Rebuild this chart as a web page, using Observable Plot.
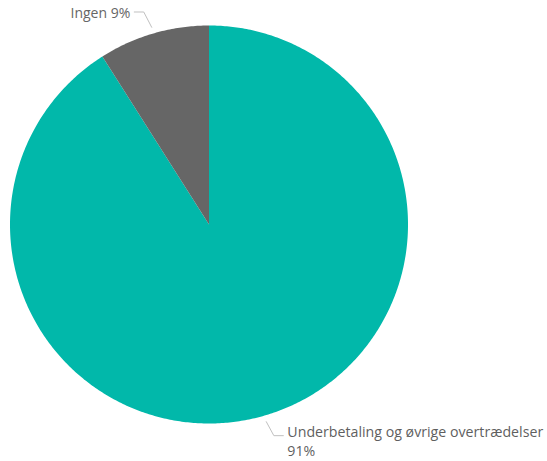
<!DOCTYPE html>
<html>
<head>
<meta charset="utf-8">
<script src="https://cdn.jsdelivr.net/npm/d3@7"></script>
<script src="https://cdn.jsdelivr.net/npm/@observablehq/plot@0.6"></script>
<style>
  html, body { margin: 0; padding: 0; background: #fff; }
  #chart { width: 547px; height: 461px; }
</style>
</head>
<body>
<div id="chart"></div>
<script>
const categories = ["Underbetaling og øvrige overtrædelser", "Ingen"];
const values = [91, 9];
const labels = ["Underbetaling og øvrige overtrædelser\n91%", "Ingen 9%"];
const colors = ["#01B8AA", "#666666"];

// pie angles (clockwise from 12 o'clock); gray slice sits just before 12 o'clock
const total = d3.sum(values);
let acc = 0;
const slices = categories.map((c, i) => {
  const a0 = acc / total * 2 * Math.PI;
  acc += values[i];
  const a1 = acc / total * 2 * Math.PI;
  return {category: c, value: values[i], label: labels[i], a0, a1, mid: (a0 + a1) / 2};
});

const polys = [];
for (const s of slices) {
  polys.push({category: s.category, x: 0, y: 0});
  const n = Math.max(2, Math.ceil((s.a1 - s.a0) / 0.01));
  for (let k = 0; k <= n; k++) {
    const a = s.a0 + (s.a1 - s.a0) * k / n;
    polys.push({category: s.category, x: Math.sin(a), y: Math.cos(a)});
  }
  polys.push({category: s.category, x: 0, y: 0});
}

const R = 199; // px per data unit
const leaders = [];
const texts = [];
for (const s of slices) {
  const right = Math.sin(s.mid) >= 0;
  const sg = right ? 1 : -1;
  const r0 = 1.032, r1 = right ? 1.105 : 1.112;
  const ex = Math.sin(s.mid) * r1 + sg * 3.5 / R, ey = Math.cos(s.mid) * r1;
  const hx = ex + sg * 9.5 / R;
  leaders.push({category: s.category, x: Math.sin(s.mid) * r0, y: Math.cos(s.mid) * r0});
  leaders.push({category: s.category, x: ex, y: ey});
  leaders.push({category: s.category, x: hx, y: ey});
  texts.push({label: s.label, x: hx + sg * 4 / R, y: ey, right});
}

const chart = Plot.plot({
  width: 547,
  height: 461,
  margin: 0,
  x: {domain: [-1, 1], range: [9.5, 407.5], axis: null},
  y: {domain: [-1, 1], range: [423, 25], axis: null},
  color: {domain: categories, range: colors},
  style: {fontFamily: "'Open Sans', sans-serif", background: "#fff"},
  marks: [
    Plot.line(polys, {x: "x", y: "y", z: "category", fill: "category", stroke: "none", curve: "linear"}),
    Plot.line(leaders, {x: "x", y: "y", z: "category", stroke: "#c0c0c0", strokeWidth: 1}),
    Plot.text(texts.filter(d => !d.right), {x: "x", y: "y", text: "label", textAnchor: "end", fill: "#666666", fontSize: 14, dy: 1.5}),
    Plot.text(texts.filter(d => d.right), {x: "x", y: "y", text: "label", textAnchor: "start", fill: "#5f5f5f", fontSize: 14.2, lineHeight: 1.33, lineAnchor: "top", dy: -12})
  ]
});
document.getElementById("chart").appendChild(chart);
</script>
</body>
</html>
